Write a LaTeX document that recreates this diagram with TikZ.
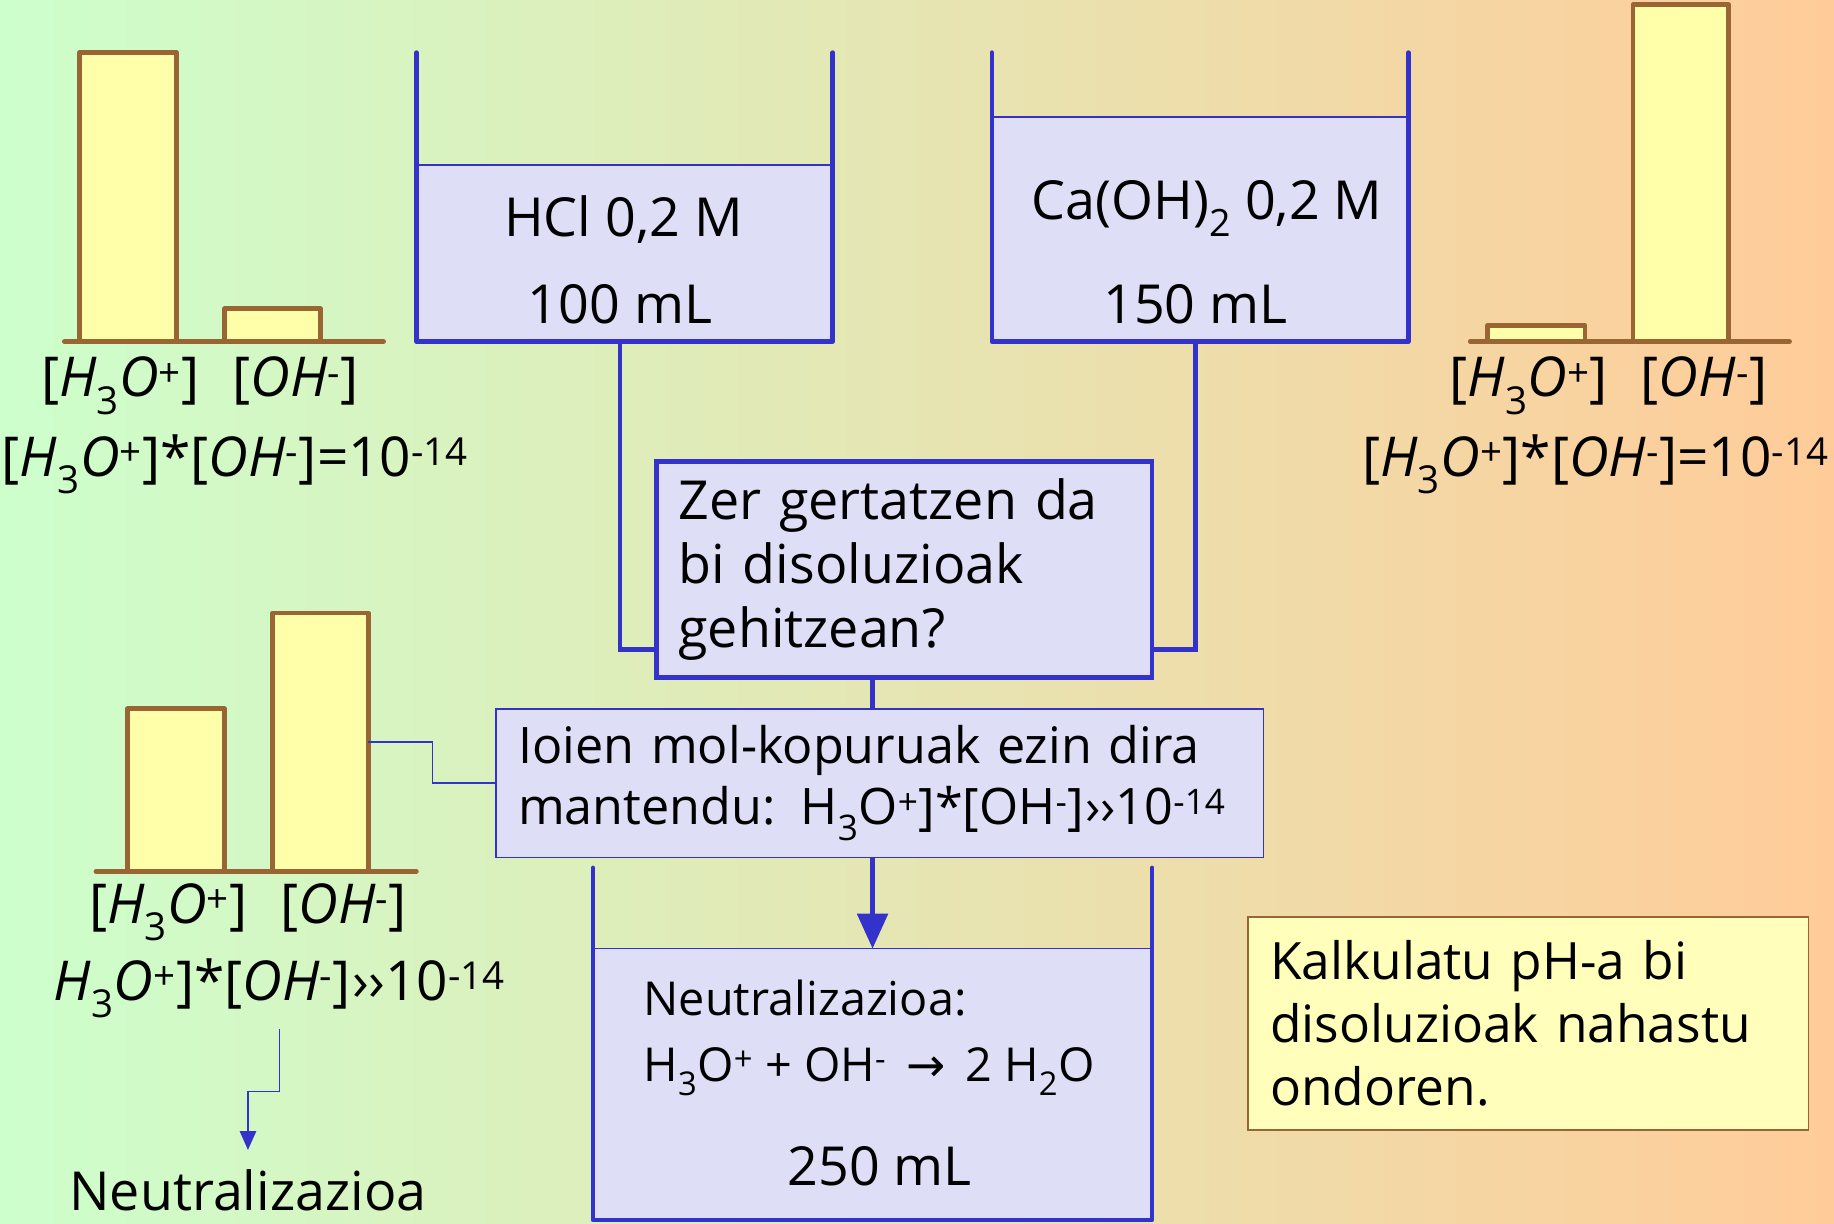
\documentclass[tikz,border=0pt]{standalone}
\usepackage{fontspec}
\setmainfont{Open Sans}
\newfontfamily\arrowfont{DejaVu Sans}
\usetikzlibrary{arrows.meta,calc}
\definecolor{bgL}{RGB}{204,255,204}
\definecolor{bgR}{RGB}{255,204,153}
\definecolor{brn}{RGB}{153,102,51}
\definecolor{barfill}{RGB}{255,255,170}
\definecolor{blu}{RGB}{51,51,204}
\definecolor{lav}{RGB}{222,222,246}
\definecolor{noteyel}{RGB}{255,255,187}
\newcommand\sbs[1]{\textsubscript{#1}}
\newcommand\sps[1]{\textsuperscript{#1}}
\newcommand\ital[1]{\textit{#1}}
\begin{document}
\begin{tikzpicture}[x=1pt,y=-1pt,
  bar/.style={draw=brn, fill=barfill, line width=4pt, line join=round, anchor=south west, inner sep=0pt, outer sep=0pt},
  baseline axis/.style={draw=brn, line width=4pt, line cap=round},
  liquid/.style={fill=lav, draw=blu, line width=1pt, inner sep=0pt, outer sep=0pt, anchor=south west},
  wall/.style={draw=blu, line width=4pt, line cap=round, line join=round},
  pipe/.style={draw=blu, line width=4pt},
  thinline/.style={draw=blu, line width=1.2pt},
  big/.style={font=\fontsize{46}{55}\selectfont, inner sep=0pt},
  mid/.style={font=\fontsize{40}{44}\selectfont, inner sep=0pt},
  lbl/.style={font=\fontsize{47}{50}\selectfont, inner sep=0pt},
  qbox/.style={fill=lav, draw=blu, line width=4pt, align=left, inner xsep=19pt, font=\fontsize{46}{55}\selectfont},
  ionbox/.style={fill=lav, draw=blu, line width=1.2pt, align=left, inner xsep=19pt, font=\fontsize{43}{52}\selectfont},
  note/.style={fill=noteyel, draw=brn, line width=1.2pt, align=left, inner xsep=19pt, font=\fontsize{44}{54}\selectfont}
]
\useasboundingbox (0,0) rectangle (1568,1046);
\shade[left color=bgL, right color=bgR] (0,0) rectangle (1568,1046);

% top-left bars
\node[bar, minimum width=83pt, minimum height=247pt] (b1) at (68,292) {};
\node[bar, minimum width=82pt, minimum height=28pt] (b2) at (192,292) {};
\draw[baseline axis] (55,292) -- (328,292);
\node[lbl] (l1) at (171,330) {[\ital{H}\sbs{3}\ital{O}\sps{+}]\hspace{0.6em}[\ital{OH}\sps{-}]};
\node[lbl] (eq1) at (201,397) {[\ital{H}\sbs{3}\ital{O}\sps{+}]*[\ital{OH}\sps{-}]=10\sps{-14}};

% top-right bars
\node[bar, minimum width=83pt, minimum height=14pt] (b5) at (1272,292) {};
\node[bar, minimum width=82pt, minimum height=288pt] (b6) at (1396,292) {};
\draw[baseline axis] (1257,292) -- (1530,292);
\node[lbl] (l2) at (1375,330) {[\ital{H}\sbs{3}\ital{O}\sps{+}]\hspace{0.6em}[\ital{OH}\sps{-}]};
\node[lbl] (eq2) at (1364,397) {[\ital{H}\sbs{3}\ital{O}\sps{+}]*[\ital{OH}\sps{-}]=10\sps{-14}};

% beaker HCl
\node[liquid, minimum width=356pt, minimum height=151pt] (hcl) at (356,292) {};
\draw[wall] (356,45) -- (356,292) -- (712,292) -- (712,45);
\node[big] (hclt1) at (533,188) {HCl 0,2 M};
\node[big] (hclt2) at (530,260) {100 mL};

% beaker Ca(OH)2
\node[liquid, minimum width=356pt, minimum height=192pt] (caoh) at (848,292) {};
\draw[wall] (848,45) -- (848,292) -- (1204,292) -- (1204,45);
\node[big] (caoht1) at (1032,178) {Ca(OH)\sbs{2} 0,2 M};
\node[big] (caoht2) at (1022,260) {150 mL};

% question box
\node[qbox, minimum width=424pt, minimum height=185pt, text width=386pt] (q) at (773,487)
  {Zer gertatzen da\\bi disoluzioak\\gehitzean?};
\draw[pipe] ([xshift=-4pt]hcl.south) |- ([yshift=26pt]q.south west);
\draw[pipe] ([xshift=-4pt]caoh.south) |- ([yshift=26pt]q.south east);

% ion box
\node[ionbox, minimum width=656pt, minimum height=127pt, text width=618pt] (ion) at (752,669.5)
  {Ioien mol-kopuruak ezin dira\\\mbox{mantendu: H\sbs{3}O\sps{+}]*[OH\sps{-}]\kern1pt››10\sps{-14}}};

% beaker result
\node[liquid, minimum width=478pt, minimum height=232pt] (b3) at (507,1043) {};
\draw[wall] (507,742) -- (507,1043) -- (985,1043) -- (985,742);
\node[mid, anchor=west] (neut) at (550,853) {Neutralizazioa:};
\node[mid, anchor=west] (react) at (550,916) {H\sbs{3}O\sps{+} + OH\sps{-} \,{\arrowfont →}\, 2 H\sbs{2}O};
\node[big] (vol) at (752,997) {250 mL};

\draw[pipe] (b3.north |- q.south) -- (b3.north |- ion.north);
\draw[pipe, -{Triangle[length=30pt,width=26pt]}] (b3.north |- ion.south) -- (b3.north);

% bottom-left bars
\node[bar, minimum width=83pt, minimum height=139pt] (b7) at (109,745) {};
\node[bar, minimum width=82pt, minimum height=221pt] (b8) at (233,745) {};
\draw[baseline axis] (82,745) -- (356,745);
\node[lbl] (l3) at (212,780) {[\ital{H}\sbs{3}\ital{O}\sps{+}]\hspace{0.6em}[\ital{OH}\sps{-}]};
\node[lbl] (eq3) at (239,845) {\ital{H}\sbs{3}\ital{O}\sps{+}]*[\ital{OH}\sps{-}]\kern1pt››10\sps{-14}};
\draw[thinline] (b8.east) -- ++(55,0) |- (ion.west);

\node[big] (neu) at (212,1018) {Neutralizazioa};
\draw[thinline, -{Triangle[length=16pt,width=14pt]}] (eq3.center) ++(0,35) -- ++(0,53) -| ([yshift=17pt]neu.north);

% note
\node[note, minimum width=479pt, minimum height=182pt, text width=441pt] (k) at (1306.5,875)
  {Kalkulatu pH-a bi\\disoluzioak nahastu\\ondoren.};
\end{tikzpicture}
\end{document}
